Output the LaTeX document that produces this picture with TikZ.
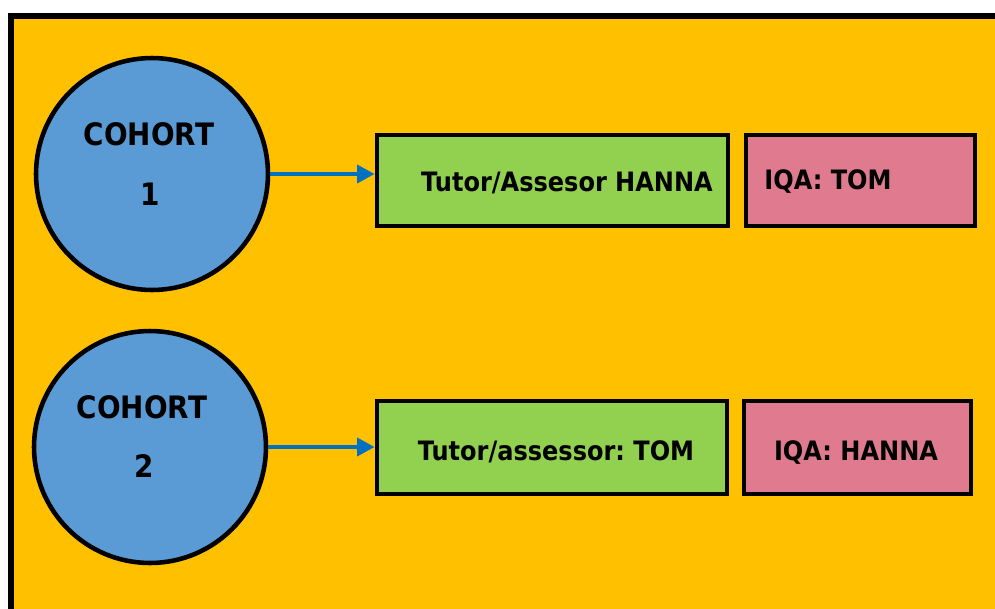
\documentclass[tikz,border=0pt]{standalone}
\usepackage{fontspec}
\setmainfont{DejaVu Sans}[FakeStretch=0.9]
\frenchspacing
\usetikzlibrary{arrows.meta}
\definecolor{bgorange}{HTML}{FFC000}
\definecolor{cblue}{HTML}{5B9BD5}
\definecolor{bgreen}{HTML}{92D050}
\definecolor{bpink}{HTML}{E07B8F}
\definecolor{arrblue}{HTML}{0070C0}
\tikzset{
  cohort/.style={circle, draw=black, fill=cblue, line width=2.6pt, minimum size=4.64cm, inner sep=0pt},
  gbox/.style={rectangle, draw=black, fill=bgreen, line width=2.6pt, inner sep=0pt},
  pbox/.style={rectangle, draw=black, fill=bpink, line width=2.6pt, inner sep=0pt},
  boxtxt/.style={anchor=base, inner sep=0pt, font=\fontsize{15.2}{18}\selectfont\bfseries},
  cirtxt/.style={anchor=base, inner sep=0pt, font=\fontsize{17.6}{21}\selectfont\bfseries},
  conn/.style={draw=arrblue, line width=2.5pt, -{Triangle[length=10pt,width=10pt]}}
}
\begin{document}
\begin{tikzpicture}[x=0.02cm,y=-0.02cm]
\useasboundingbox (0,0) rectangle (995,609);
\clip (0,0) rectangle (995,609);
\fill[white] (0,0) rectangle (995,609);
\draw[fill=bgorange, line width=2.9pt] (11,16) rectangle (1020,640);
% circles
\node[cohort] (c1) at (152,174) {};
\node[cohort] (c2) at (150,447) {};
% boxes
\node[gbox, minimum width=7.02cm, minimum height=1.82cm] (g1) at (552.5,180.5) {};
\node[pbox, minimum width=4.58cm, minimum height=1.82cm] (p1) at (860.5,180.5) {};
\node[gbox, minimum width=7.00cm, minimum height=1.86cm] (g2) at (552,447.5) {};
\node[pbox, minimum width=4.54cm, minimum height=1.86cm] (p2) at (857.5,447.5) {};
% texts
\node[cirtxt] (t1a) at (149,145) {COHORT};
\node[cirtxt] (t1b) at (150,205) {1};
\node[cirtxt] (t2a) at (142,418) {COHORT};
\node[cirtxt] (t2b) at (144,477) {2};
\node[boxtxt] (tg1) at (567,191) {Tutor/Assesor HANNA};
\node[boxtxt] (tp1) at (828,189) {IQA: TOM};
\node[boxtxt] (tg2) at (556,460.5) {Tutor/assessor: TOM};
\node[boxtxt] (tp2) at (856,460) {IQA: HANNA};
% connectors
\draw[conn] (c1.east |- 0,174) -- (g1.west |- 0,174);
\draw[conn] (c2.east |- 0,447) -- (g2.west |- 0,447);
\end{tikzpicture}
\end{document}
